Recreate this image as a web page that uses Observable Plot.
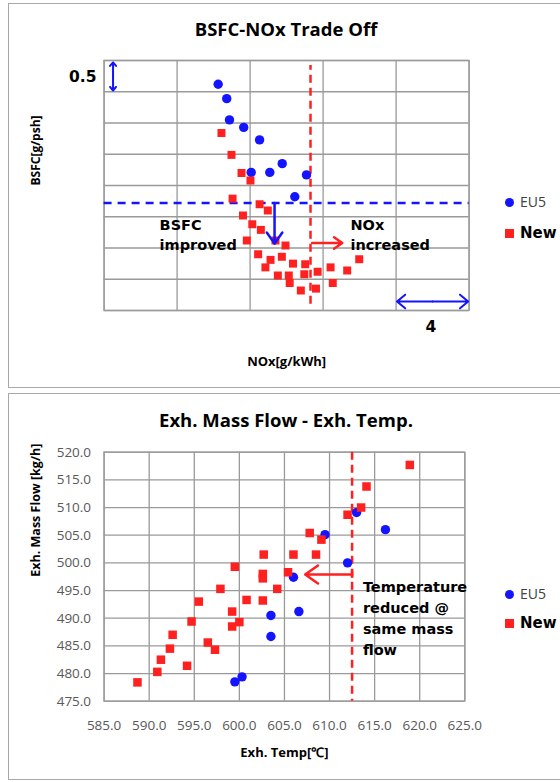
<!DOCTYPE html>
<html><head><meta charset="utf-8">
<script src="https://cdn.jsdelivr.net/npm/d3@7"></script>
<script src="https://cdn.jsdelivr.net/npm/@observablehq/plot@0.6"></script>
<style>
html,body{margin:0;padding:0;background:#fff;}
#page{position:relative;width:560px;height:782px;overflow:hidden;background:#fff;}
.panel{position:absolute;left:8px;width:580px;border:1.5px solid #a8a8a8;box-sizing:border-box;background:#fff;}
.chart{position:absolute;left:0;}
.title{position:absolute;left:0;width:572px;text-align:center;font-family:"Open Sans";font-weight:bold;font-size:18.5px;line-height:24px;color:#000;white-space:nowrap;}
.mk{position:absolute;width:9px;height:9px;}
.circ{border-radius:50%;background:#1414ff;}
.sq{background:#ff2020;}
.leu{position:absolute;font-family:"Open Sans";font-size:14px;line-height:16px;color:#404040;}
.lnew{position:absolute;font-family:"DejaVu Sans";font-weight:bold;font-size:15px;line-height:18px;color:#000;}
</style>
</head><body><div id="page"></div>
<script>
// ---------- Top chart: BSFC-NOx trade off (relative units; grid = 4 g/kWh x 0.5 g/psh) ----------
const noxGrid = [0, 4, 8, 12, 16, 20];
const bsfcGrid = [0, 0.5, 1, 1.5, 2, 2.5, 3, 3.5, 4];
const noxEU5  = [6.25, 6.72, 6.87, 7.65, 8.52, 8.06, 9.08, 9.76, 11.09, 10.45];
const bsfcEU5 = [3.62, 3.39, 3.05, 2.93, 2.73, 2.21, 2.21, 2.35, 2.17, 1.82];
const noxNew  = [6.43, 6.98, 7.53, 8.02, 7.04, 8.52, 8.97, 7.61, 8.12, 8.59, 7.82, 9.39, 9.94, 8.44, 9.12,
                 9.74, 8.84, 10.35, 11.02, 9.52, 10.12, 10.97, 11.70, 12.41, 13.32, 13.98, 10.17, 10.78, 11.61, 12.53];
const bsfcNew = [2.84, 2.49, 2.20, 2.08, 1.79, 1.70, 1.60, 1.52, 1.38, 1.29, 1.12, 1.12, 1.04, 0.90, 0.81,
                 0.86, 0.69, 0.75, 0.74, 0.56, 0.56, 0.58, 0.62, 0.69, 0.64, 0.82, 0.44, 0.32, 0.35, 0.44];
const noxLimit = 11.31;
const bsfcRef = 1.72;

// ---------- Bottom chart: Exh. Mass Flow vs Exh. Temp ----------
const tempTicks = [585, 590, 595, 600, 605, 610, 615, 620, 625];
const massTicks = [475, 480, 485, 490, 495, 500, 505, 510, 515, 520];
const tempNew = [588.7, 590.9, 591.3, 592.3, 592.6, 594.2, 594.7, 595.5, 596.5, 597.3, 597.9, 599.5, 599.2, 599.2, 600.0,
                 600.8, 602.6, 602.6, 602.6, 602.7, 604.2, 605.4, 606.0, 607.8, 608.5, 609.1, 612.0, 613.5, 614.1, 618.9];
const massNew = [478.4, 480.3, 482.5, 484.5, 487.0, 481.4, 489.4, 493.0, 485.6, 484.3, 495.3, 499.3, 491.2, 488.5, 489.3,
                 493.3, 498.0, 497.2, 493.2, 501.5, 495.3, 498.3, 501.5, 505.4, 501.5, 504.2, 508.7, 510.0, 513.8, 517.7];
const tempEU5 = [599.5, 600.3, 603.5, 603.5, 606.0, 606.6, 609.5, 612.0, 613.0, 616.2];
const massEU5 = [478.5, 479.4, 490.5, 486.7, 497.4, 491.2, 505.1, 500.0, 509.1, 506.0];
const tempLimit = 612.5;

const BLUE = "#1414ff", RED = "#ff2020", GRID = "#9a9a9a";
const ann = {fontFamily: "DejaVu Sans", fontWeight: "bold", fontSize: 14.5, fill: "#000"};
const axisLbl = {fontFamily: "Open Sans", fontWeight: "bold", fontSize: 13, fill: "#000"};

const topEU5 = noxEU5.map((x, i) => ({x, y: bsfcEU5[i]}));
const topNew = noxNew.map((x, i) => ({x, y: bsfcNew[i]}));
const botEU5 = tempEU5.map((x, i) => ({x, y: massEU5[i]}));
const botNew = tempNew.map((x, i) => ({x, y: massNew[i]}));

const page = document.getElementById("page");
function addDiv(cls, style, text) {
  const d = document.createElement("div");
  d.className = cls; Object.assign(d.style, style);
  if (text) d.textContent = text;
  page.appendChild(d); return d;
}
addDiv("panel", {top: "3px", height: "385px"});
addDiv("panel", {top: "393px", height: "387px"});

const topChart = Plot.plot({
  width: 560, height: 390,
  marginLeft: 103.6, marginRight: 91.4, marginTop: 60, marginBottom: 80,
  x: {domain: [0, 20], axis: null},
  y: {domain: [0, 4], axis: null},
  style: {background: "transparent", overflow: "visible"},
  marks: [
    Plot.ruleX(noxGrid, {stroke: GRID, strokeWidth: 1.3}),
    Plot.ruleY(bsfcGrid, {stroke: GRID, strokeWidth: 1.3}),
    Plot.frame({stroke: GRID, strokeWidth: 1.3}),
    Plot.ruleY([bsfcRef], {stroke: BLUE, strokeWidth: 2.5, strokeDasharray: "8,6"}),
    Plot.ruleX([noxLimit], {y1: 0.1, y2: 3.92, stroke: RED, strokeWidth: 2.5, strokeDasharray: "8,5"}),
    Plot.dot(topEU5, {x: "x", y: "y", r: 4.7, fill: BLUE, stroke: "none"}),
    Plot.dot(topNew, {x: "x", y: "y", r: 4.5, symbol: "square", fill: RED, stroke: "none"}),
    Plot.arrow([{x1: 9.34, y1: bsfcRef, x2: 9.34, y2: 1.07}], {x1: "x1", y1: "y1", x2: "x2", y2: "y2", stroke: BLUE, strokeWidth: 2.5, headLength: 11, headAngle: 70}),
    Plot.arrow([{x1: 11.4, y1: 1.08, x2: 13.05, y2: 1.08}], {x1: "x1", y1: "y1", x2: "x2", y2: "y2", stroke: RED, strokeWidth: 2.5, headLength: 11, headAngle: 70}),
    Plot.text(["BSFC\nimproved"], {x: 3.04, y: 1.23, textAnchor: "start", lineHeight: 1.38, ...ann}),
    Plot.text(["NOx\nincreased"], {x: 13.5, y: 1.23, textAnchor: "start", lineHeight: 1.38, ...ann}),
    Plot.arrow([{x1: 0.49, y1: 3.745, x2: 0.49, y2: 3.97}, {x1: 0.49, y1: 3.745, x2: 0.49, y2: 3.52}],
      {x1: "x1", y1: "y1", x2: "x2", y2: "y2", stroke: BLUE, strokeWidth: 2, headLength: 7, headAngle: 80}),
    Plot.text(["0.5"], {x: -0.42, y: 3.73, textAnchor: "end", ...ann, fontSize: 15.5}),
    Plot.arrow([{x1: 18, y1: 0.144, x2: 16.05, y2: 0.144}, {x1: 18, y1: 0.144, x2: 19.95, y2: 0.144}],
      {x1: "x1", y1: "y1", x2: "x2", y2: "y2", stroke: BLUE, strokeWidth: 2, headLength: 8, headAngle: 80}),
    Plot.text(["4"], {x: 17.9, y: -0.27, ...ann, fontSize: 15.5}),
    Plot.text(["NOx[g/kWh]"], {frameAnchor: "bottom", dy: 55, ...axisLbl}),
    Plot.text(["BSFC[g/psh]"], {frameAnchor: "left", dx: -68, rotate: -90, ...axisLbl, fontSize: 12})
  ]
});
topChart.classList.add("chart");
topChart.style.top = "0px";
page.appendChild(topChart);

const botChart = Plot.plot({
  width: 560, height: 392,
  marginLeft: 103.6, marginRight: 95.7, marginTop: 61.7, marginBottom: 81.3,
  x: {domain: [585, 625]},
  y: {domain: [475, 520]},
  style: {background: "transparent", overflow: "visible"},
  marks: [
    Plot.ruleX(tempTicks, {stroke: GRID, strokeWidth: 1.3}),
    Plot.ruleY(massTicks, {stroke: GRID, strokeWidth: 1.3}),
    Plot.frame({stroke: GRID, strokeWidth: 1.3}),
    Plot.axisY({ticks: massTicks, tickSize: 0, tickPadding: 13, tickFormat: d => d.toFixed(1), label: null,
      fontFamily: "Open Sans", fontSize: 13.5, fill: "#595959"}),
    Plot.axisX({ticks: tempTicks, tickSize: 0, tickPadding: 19, tickFormat: d => d.toFixed(1), label: null,
      fontFamily: "Open Sans", fontSize: 13.5, fill: "#595959"}),
    Plot.ruleX([tempLimit], {stroke: RED, strokeWidth: 2.5, strokeDasharray: "8,5"}),
    Plot.dot(botEU5, {x: "x", y: "y", r: 4.7, fill: BLUE, stroke: "none"}),
    Plot.dot(botNew, {x: "x", y: "y", r: 4.8, symbol: "square", fill: RED, stroke: "none"}),
    Plot.arrow([{x1: tempLimit, y1: 497.9, x2: 607.3, y2: 497.9}], {x1: "x1", y1: "y1", x2: "x2", y2: "y2", stroke: RED, strokeWidth: 2.5, headLength: 11, headAngle: 70}),
    Plot.ruleX([tempLimit], {y1: 497.2, y2: 498.6, stroke: RED, strokeWidth: 2.5}),
    Plot.text(["Temperature\nreduced @\nsame mass\nflow"], {x: 613.7, y: 490.2, textAnchor: "start", lineHeight: 1.45, ...ann}),
    Plot.text(["Exh. Temp[℃]"], {frameAnchor: "bottom", dy: 56, ...axisLbl}),
    Plot.text(["Exh. Mass Flow [kg/h]"], {frameAnchor: "left", dx: -68, rotate: -90, ...axisLbl, fontSize: 12.5})
  ]
});
botChart.classList.add("chart");
botChart.style.top = "390px";
page.appendChild(botChart);

// Titles
addDiv("title", {top: (29 - 12) + "px"}, "BSFC-NOx Trade Off");
addDiv("title", {top: (420 - 12) + "px"}, "Exh. Mass Flow - Exh. Temp.");

// Legends
function legend(yEU5, yNew) {
  addDiv("mk circ", {left: "504.5px", top: (yEU5 - 4.5) + "px"});
  addDiv("leu", {left: "520px", top: (yEU5 - 8) + "px"}, "EU5");
  addDiv("mk sq", {left: "504.5px", top: (yNew - 4.5) + "px"});
  addDiv("lnew", {left: "520px", top: (yNew - 9) + "px"}, "New");
}
legend(202, 233);
legend(594, 623);
</script>
</body></html>
